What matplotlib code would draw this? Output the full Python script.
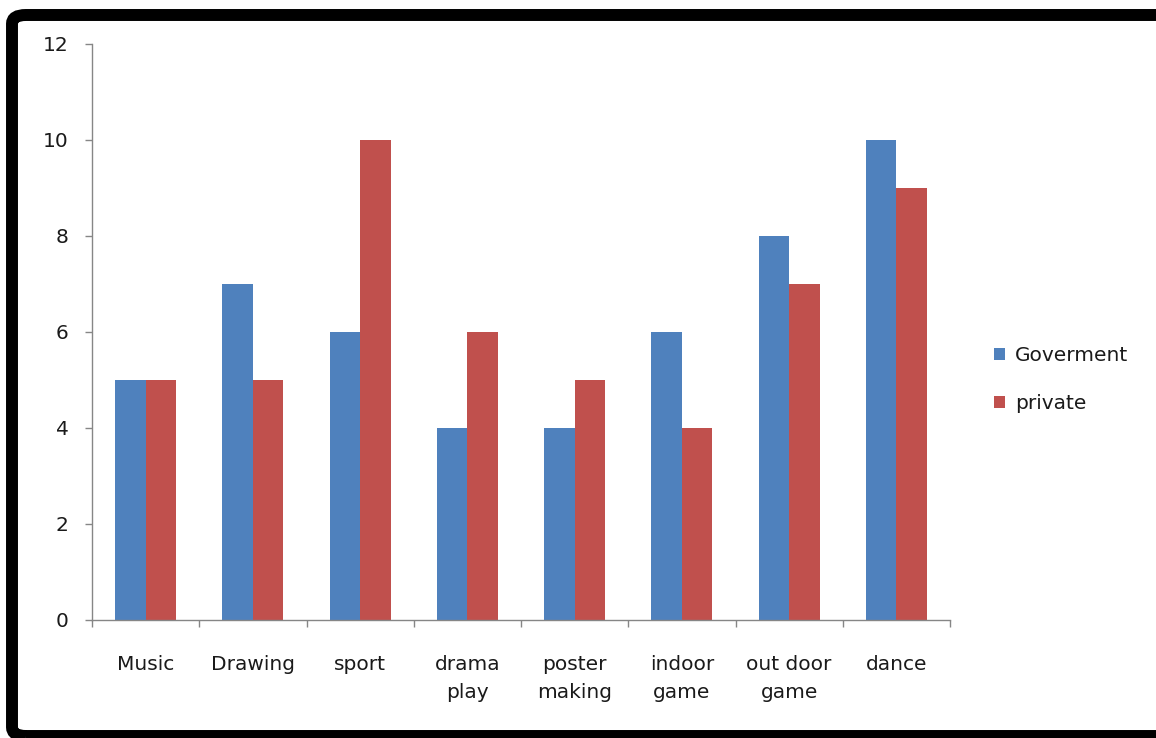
import matplotlib.pyplot as plt
import numpy as np
from matplotlib.patches import FancyBboxPatch

categories = ['Music', 'Drawing', 'sport', 'drama\nplay', 'poster\nmaking',
              'indoor\ngame', 'out door\ngame', 'dance']
goverment = [5, 7, 6, 4, 4, 6, 8, 10]
private = [5, 5, 10, 6, 5, 4, 7, 9]

fig = plt.figure(figsize=(11.56, 7.38), dpi=100)
ax = fig.add_axes([0.0796, 0.1599, 0.7422, 0.7805])

x = np.arange(len(categories))
w = 0.285
ax.bar(x - w / 2, goverment, w, color='#4F81BD', label='Goverment')
ax.bar(x + w / 2, private, w, color='#C0504D', label='private')

ax.set_xlim(-0.5, len(categories) - 0.5)
ax.set_ylim(0, 12)
ax.set_yticks(range(0, 13, 2))
ax.set_xticks(x)
ax.set_xticklabels(categories, linespacing=1.6)
# category separators as outward ticks
ax.set_xticks(np.arange(-0.5, len(categories)), minor=True)
ax.tick_params(axis='x', which='major', length=0, pad=25, labelsize=14.5, colors='#1a1a1a')
ax.tick_params(axis='x', which='minor', length=5, width=1, color='#868686', direction='out')
ax.tick_params(axis='y', length=5, width=1, color='#868686', pad=12, labelsize=14.5,
               labelcolor='#1a1a1a')

for side in ['top', 'right']:
    ax.spines[side].set_visible(False)
for side in ['left', 'bottom']:
    ax.spines[side].set_color('#868686')
    ax.spines[side].set_linewidth(1)

leg = ax.legend(loc='center left', bbox_to_anchor=(0.844, 0.486),
                bbox_transform=fig.transFigure, frameon=False,
                handlelength=0.55, handleheight=0.55, handletextpad=0.5,
                labelspacing=1.45, fontsize=14.5)
for t in leg.get_texts():
    t.set_color('#1a1a1a')

# thick rounded frame around the chart
frame = FancyBboxPatch((12 / 1156, 2 / 738), 1.02, 1 - 17 / 738,
                       boxstyle='round,pad=0,rounding_size=0.012',
                       transform=fig.transFigure, fill=False,
                       edgecolor='black', linewidth=8.6, clip_on=False)
fig.patches.append(frame)

fig.savefig('out.png', dpi=100)
